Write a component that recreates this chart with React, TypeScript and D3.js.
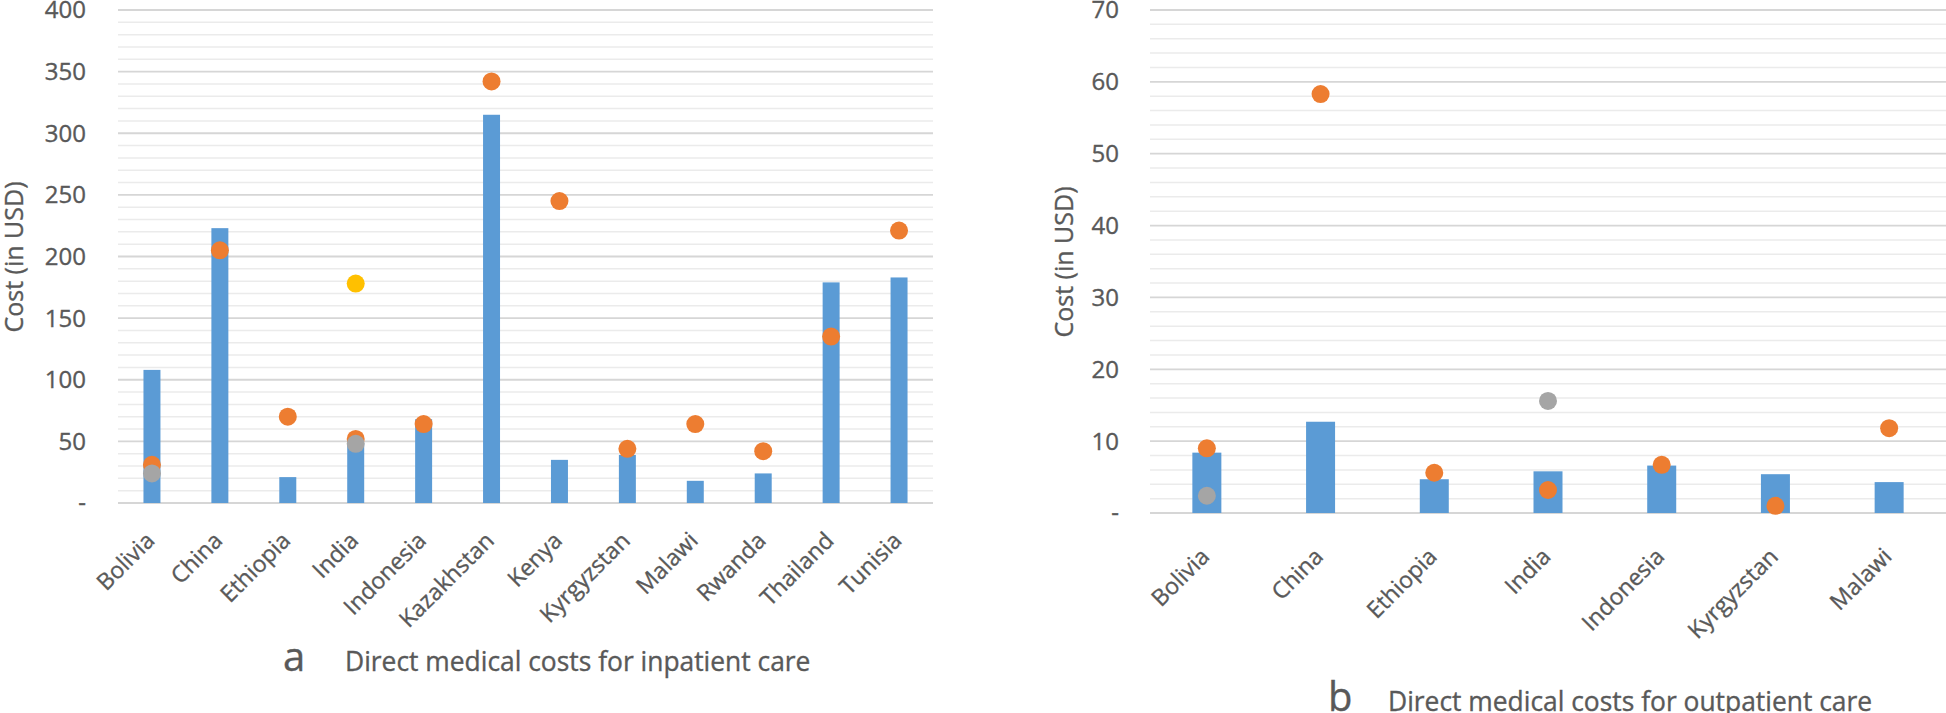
import React from "react";
import * as d3 from "d3";

const inpatientCountries = ["Bolivia", "China", "Ethiopia", "India", "Indonesia", "Kazakhstan", "Kenya", "Kyrgyzstan", "Malawi", "Rwanda", "Thailand", "Tunisia"];
const inpatientBars = [108, 223, 21, 49, 68, 315, 35, 39, 18, 24, 179, 183];
const inpatientOrange: (number | null)[] = [31, 205, 70, 52, 64, 342, 245, 44, 64, 42, 135, 221];
const inpatientGray: (number | null)[] = [24, null, null, 48, null, null, null, null, null, null, null, null];
const inpatientYellow: (number | null)[] = [null, null, null, 178, null, null, null, null, null, null, null, null];
const inpatientTicks = [0, 50, 100, 150, 200, 250, 300, 350, 400];

const outpatientCountries = ["Bolivia", "China", "Ethiopia", "India", "Indonesia", "Kyrgyzstan", "Malawi"];
const outpatientBars = [8.4, 12.7, 4.7, 5.8, 6.6, 5.4, 4.3];
const outpatientOrange: (number | null)[] = [9.0, 58.3, 5.6, 3.2, 6.7, 1.0, 11.8];
const outpatientGray: (number | null)[] = [2.4, null, null, 15.6, null, null, null];
const outpatientTicks = [0, 10, 20, 30, 40, 50, 60, 70];

const FONT = "'Open Sans', 'Noto Sans', sans-serif";
const TEXT = "#595959";
const textStyle = { stroke: TEXT, strokeWidth: 0.35 };

type PanelProps = {
  cats: string[];
  bars: number[];
  orange: (number | null)[];
  gray: (number | null)[];
  yellow: (number | null)[];
  ticks: number[];
  yMax: number;
  minorStep: number;
  x0: number;
  x1: number;
  yTop: number;
  yBottom: number;
  labelX: number;
  labelDy: number;
  barFrac: number;
  titleX: number;
  titleY: number;
  letter: string;
  letterX: number;
  title: string;
  textX: number;
  textY: number;
};

function Panel(p: PanelProps) {
  const x = d3.scaleBand<string>().domain(p.cats).range([p.x0, p.x1]).padding(0);
  const y = d3.scaleLinear().domain([0, p.yMax]).range([p.yBottom, p.yTop]);
  const minor = d3.range(0, p.yMax + 0.0001, p.minorStep).filter((v) => !p.ticks.some((t) => Math.abs(t - v) < 1e-6));
  const bw = x.bandwidth() * p.barFrac;
  const cx = (c: string) => (x(c) as number) + x.bandwidth() / 2;
  const r = 9;
  const dots = (vals: (number | null)[], color: string) =>
    vals.map((v, i) =>
      v == null ? null : <circle key={color + i} cx={cx(p.cats[i])} cy={y(v)} r={r} fill={color} />
    );
  return (
    <g>
      {minor.map((v) => (
        <line key={"m" + v} x1={p.x0} x2={p.x1} y1={y(v)} y2={y(v)} stroke="#ebebeb" strokeWidth={1.5} />
      ))}
      {p.ticks.map((v) => (
        <line key={"M" + v} x1={p.x0} x2={p.x1} y1={y(v)} y2={y(v)} stroke="#d6d6d6" strokeWidth={1.8} />
      ))}
      {p.ticks.map((v) => (
        <text key={"t" + v} x={p.labelX} y={y(v)} dy="0.35em" textAnchor="end" fontFamily={FONT} fontSize={24} fill={TEXT} style={textStyle}>
          {v === 0 ? "-" : String(v)}
        </text>
      ))}
      {p.bars.map((v, i) => (
        <rect key={"b" + i} x={cx(p.cats[i]) - bw / 2} width={bw} y={y(v)} height={y(0) - y(v)} fill="#5b9bd5" />
      ))}
      {dots(p.orange, "#ed7d31")}
      {dots(p.gray, "#a5a5a5")}
      {dots(p.yellow, "#ffc000")}
      {p.cats.map((c) => {
        const ax = cx(c) + 4;
        const ay = p.yBottom + p.labelDy;
        return (
          <text key={"c" + c} x={ax} y={ay} transform={`rotate(-45 ${ax} ${ay})`} textAnchor="end" fontFamily={FONT} fontSize={23} fill={TEXT} style={textStyle}>
            {c}
          </text>
        );
      })}
      <text x={p.titleX} y={p.titleY} transform={`rotate(-90 ${p.titleX} ${p.titleY})`} textAnchor="middle" fontFamily={FONT} fontSize={25} fill={TEXT} style={textStyle}>
        Cost (in USD)
      </text>
      <text x={p.letterX} y={p.textY} fontFamily={FONT} fontSize={40} fill={TEXT} style={textStyle}>
        {p.letter}
      </text>
      <text x={p.textX} y={p.textY} fontFamily={FONT} fontSize={26.4} fill={TEXT} style={textStyle}>
        {p.title}
      </text>
    </g>
  );
}

export default function App() {
  return (
    <svg width={1946} height={713} style={{ position: "absolute", left: 0, top: 0, background: "#fff" }}>
      <rect width={1946} height={713} fill="#fff" />
      <Panel
        cats={inpatientCountries}
        bars={inpatientBars}
        orange={inpatientOrange}
        gray={inpatientGray}
        yellow={inpatientYellow}
        ticks={inpatientTicks}
        yMax={400}
        minorStep={10}
        x0={118}
        x1={933}
        yTop={10}
        yBottom={503}
        labelX={86}
        labelDy={39}
        barFrac={0.25}
        titleX={23}
        titleY={257}
        letter="a"
        letterX={283}
        title="Direct medical costs for inpatient care"
        textX={345}
        textY={671}
      />
      <Panel
        cats={outpatientCountries}
        bars={outpatientBars}
        orange={outpatientOrange}
        gray={outpatientGray}
        yellow={outpatientCountries.map(() => null)}
        ticks={outpatientTicks}
        yMax={70}
        minorStep={2}
        x0={1150}
        x1={1946}
        yTop={10}
        yBottom={513}
        labelX={1119}
        labelDy={45}
        barFrac={0.255}
        titleX={1073}
        titleY={262}
        letter="b"
        letterX={1328}
        title="Direct medical costs for outpatient care"
        textX={1388}
        textY={711}
      />
    </svg>
  );
}
